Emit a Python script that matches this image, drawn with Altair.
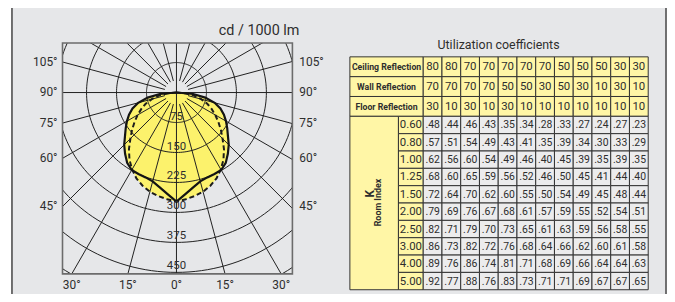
import altair as alt
import pandas as pd

# ------------------------------------------------------------------ data
# polar diagram: luminous intensity (cd / 1000 lm) every 5 degrees from nadir
angles = [0, 5, 10, 15, 20, 25, 30, 35, 40, 45, 50, 55, 60, 65, 70, 75, 80, 85, 90]
cd_solid = [273, 255, 241, 230, 226, 225, 224, 215, 200, 185, 168, 155, 143, 131, 117, 99, 73, 42, 0]
cd_dashed = [273, 268, 263, 257, 248, 237, 222, 205, 185, 163, 145, 128, 112, 97, 82, 64, 45, 22, 0]

ring_values = [75, 150, 225, 300, 375, 450, 525]
ring_labels = [75, 150, 225, 300, 375, 450]
radial_angles = [-165, -150, -135, -120, -105, -90, -75, -60, -45, -30, -15, 0,
                 15, 30, 45, 60, 75, 90, 105, 120, 135, 150, 165, 180]
side_angles = [105, 90, 75, 60, 45]
bottom_angles = [-30, -15, 0, 15, 30]
polar_title = "cd / 1000 lm"

# utilisation table
table_title = "Utilization coefficients"
header_labels = ["Ceiling Reflection", "Wall Reflection", "Floor Reflection"]
ceiling = [80, 80, 70, 70, 70, 70, 70, 50, 50, 50, 30, 30]
wall = [70, 70, 70, 70, 50, 50, 30, 50, 30, 10, 30, 10]
floor = [30, 10, 30, 10, 30, 10, 10, 10, 10, 10, 10, 10]
room_index = ["0.60", "0.80", "1.00", "1.25", "1.50", "2.00", "2.50", "3.00", "4.00", "5.00"]
coefficients = [
    [.48, .44, .46, .43, .35, .34, .28, .33, .27, .24, .27, .23],
    [.57, .51, .54, .49, .43, .41, .35, .39, .34, .30, .33, .29],
    [.62, .56, .60, .54, .49, .46, .40, .45, .39, .35, .39, .35],
    [.68, .60, .65, .59, .56, .52, .46, .50, .45, .41, .44, .40],
    [.72, .64, .70, .62, .60, .55, .50, .54, .49, .45, .48, .44],
    [.79, .69, .76, .67, .68, .61, .57, .59, .55, .52, .54, .51],
    [.82, .71, .79, .70, .73, .65, .61, .63, .59, .56, .58, .55],
    [.86, .73, .82, .72, .76, .68, .64, .66, .62, .60, .61, .58],
    [.89, .76, .86, .74, .81, .71, .68, .69, .66, .64, .64, .63],
    [.92, .77, .88, .76, .83, .73, .71, .71, .69, .67, .67, .65],
]

# ------------------------------------------------------------------ layout / style
FONT = "Roboto, 'Liberation Sans', sans-serif"
TXT = "#2e2e2e"
GRID = "#1f1f1f"
YELLOW = "#fcf26c"
YEL_TABLE = "#fff6a6"
PANEL = "#e6e7e9"
CELL = "#ececed"

OX, OY = 63, 42           # frame top-left (page px)
W, H = 232, 233           # frame size
CX, CY = 178 - OX, 92 - OY  # centre of the diagram inside the frame
KPX = 0.4033              # px per cd
XD = [-CX / KPX, (W - CX) / KPX]
YD = [-(H - CY) / KPX, CY / KPX]
XL = -XD[0]
YB = -YD[0]


def cx(px):
    return (px - OX - CX) / KPX


def cy(py):
    return (OY + CY - py) / KPX


def PX(f):
    return alt.X(f + ":Q", scale=alt.Scale(domain=XD, nice=False, zero=False), axis=None)


def PY(f):
    return alt.Y(f + ":Q", scale=alt.Scale(domain=YD, nice=False, zero=False), axis=None)


# table scales (columns / rows units)
COL_W = 18.92
ROW_H = 17.5
HH = 20 / ROW_H
NU = 3 * HH + 10
LC0 = (353 - 427) / COL_W
LC1 = (402 - 427) / COL_W


def TX(f):
    return alt.X(f + ":Q", scale=alt.Scale(domain=[0, 12], range=[427 - OX, 427 - OX + 12 * COL_W],
                                           nice=False, zero=False), axis=None)


def TY(f):
    return alt.Y(f + ":Q", scale=alt.Scale(domain=[0, NU], range=[56 - OY, 56 - OY + NU * ROW_H],
                                           nice=False, zero=False), axis=None)


def tcol(px):
    return (px - 427) / COL_W


def trow(py):
    return (py - 56) / ROW_H


ROWY = f"(datum.r < 3 ? (datum.r + 0.5) * {HH} : 3 * {HH} + datum.r - 3 + 0.5)"

# ------------------------------------------------------------------ tables built from the arrays
curve_rows = []
for name, vals in (("solid", cd_solid), ("dashed", cd_dashed)):
    for side in (-1, 1):
        for t, v in zip(angles, vals):
            curve_rows.append({"curve": name, "a": side * t, "cd": v})
curves = pd.DataFrame(curve_rows)

cells = []
for i, vals in enumerate([ceiling, wall, floor]):
    cells.append({"c0": LC0, "c1": 0, "r0": i, "r1": i + 1, "kind": "head"})
    for j in range(len(vals)):
        cells.append({"c0": j, "c1": j + 1, "r0": i, "r1": i + 1, "kind": "head"})
cells.append({"c0": LC0, "c1": LC1, "r0": 3, "r1": 13, "kind": "head"})
for i in range(len(room_index)):
    cells.append({"c0": LC1, "c1": 0, "r0": 3 + i, "r1": 4 + i, "kind": "head"})
    for j in range(12):
        cells.append({"c0": j, "c1": j + 1, "r0": 3 + i, "r1": 4 + i, "kind": "body"})
cells = pd.DataFrame(cells)

head_vals = pd.DataFrame([{"r": i, "c": j + 0.5, "t": str(v)}
                          for i, vals in enumerate([ceiling, wall, floor]) for j, v in enumerate(vals)])
head_labs = pd.DataFrame([{"r": i, "c": LC0 / 2, "t": t} for i, t in enumerate(header_labels)])
k_vals = pd.DataFrame([{"r": 3 + i, "c": LC1 / 2, "t": k} for i, k in enumerate(room_index)])
coef_vals = pd.DataFrame([{"r": 3 + i, "c": j + 0.5, "v": v}
                          for i, row in enumerate(coefficients) for j, v in enumerate(row)])

RAD = "PI / 180"

# ------------------------------------------------------------------ layers
panel = alt.Chart(pd.DataFrame([{"x0": cx(12), "x1": cx(672), "y0": cy(-20), "y1": cy(340)}])).mark_rect(
    fill=PANEL, stroke="#4f4f4f", strokeWidth=1.6
).encode(x=PX("x0"), x2=alt.X2("x1"), y=PY("y0"), y2=alt.Y2("y1"))

areas = alt.Chart(curves).transform_filter("datum.a >= 0").transform_calculate(
    px=f"datum.cd * sin(datum.a * {RAD})",
    py=f"-datum.cd * cos(datum.a * {RAD})",
).transform_calculate(nx="-datum.px").mark_area(
    orient="horizontal", clip=True, color=YELLOW, opacity=1
).encode(y=PY("py"), x=PX("px"), x2=alt.X2("nx"), detail="curve:N")

rings = alt.Chart(pd.DataFrame({"r": ring_values})).transform_calculate(
    ang="sequence(0, 362, 2)"
).transform_flatten(["ang"]).transform_calculate(
    px=f"datum.r * sin(datum.ang * {RAD})",
    py=f"-datum.r * cos(datum.ang * {RAD})",
).mark_line(clip=True, color=GRID, strokeWidth=1).encode(
    x=PX("px"), y=PY("py"), detail="r:N", order="ang:Q"
)

radials = alt.Chart(pd.DataFrame({"a": radial_angles})).transform_calculate(
    r0="abs(datum.a) % 90 == 0 ? 0 : 30",
).transform_calculate(
    x0=f"datum.r0 * sin(datum.a * {RAD})",
    y0=f"-datum.r0 * cos(datum.a * {RAD})",
    x1=f"900 * sin(datum.a * {RAD})",
    y1=f"-900 * cos(datum.a * {RAD})",
).mark_rule(clip=True, color=GRID, strokeWidth=1).encode(
    x=PX("x0"), y=PY("y0"), x2=alt.X2("x1"), y2=alt.Y2("y1")
)


def curve_line(name, **kw):
    return alt.Chart(curves).transform_filter(f"datum.curve == '{name}'").transform_calculate(
        px=f"datum.cd * sin(datum.a * {RAD})",
        py=f"-datum.cd * cos(datum.a * {RAD})",
    ).mark_line(clip=True, **kw).encode(x=PX("px"), y=PY("py"), order="a:Q")


line_dashed = curve_line("dashed", color="#1c1c1c", strokeWidth=2, strokeDash=[5, 3])
line_solid = curve_line("solid", color="#141414", strokeWidth=2.2)

frame = alt.Chart(pd.DataFrame([{"x0": XD[0], "x1": XD[1], "y0": YD[0], "y1": YD[1]}])).mark_rect(
    fill="transparent", stroke="#6c6c6c", strokeWidth=1.6
).encode(x=PX("x0"), x2=alt.X2("x1"), y=PY("y0"), y2=alt.Y2("y1"))

ring_text = alt.Chart(pd.DataFrame({"v": ring_labels})).transform_calculate(
    px="0", py="-datum.v", t="'' + datum.v"
).mark_text(font=FONT, fontSize=11.5, color=TXT, baseline="middle", align="center", dy=-6).encode(
    x=PX("px"), y=PY("py"), text="t:N"
)

side_df = pd.DataFrame({"a": side_angles})
side_calc = dict(py=f"-{XL} * cos(datum.a * {RAD}) / sin(datum.a * {RAD})", t="datum.a + '°'")
left_text = alt.Chart(side_df).transform_calculate(px=f"{XD[0]}", **side_calc).mark_text(
    font=FONT, fontSize=12, color=TXT, align="right", baseline="middle", dx=-5
).encode(x=PX("px"), y=PY("py"), text="t:N")
right_text = alt.Chart(side_df).transform_calculate(px=f"{XD[1]}", **side_calc).mark_text(
    font=FONT, fontSize=12, color=TXT, align="left", baseline="middle", dx=7
).encode(x=PX("px"), y=PY("py"), text="t:N")
bottom_text = alt.Chart(pd.DataFrame({"a": bottom_angles})).transform_calculate(
    px=f"{YB} * tan(datum.a * {RAD})", py=f"{YD[0]}", t="abs(datum.a) + '°'"
).mark_text(font=FONT, fontSize=12, color=TXT, align="center", baseline="middle", dy=11).encode(
    x=PX("px"), y=PY("py"), text="t:N"
)

title_polar = alt.Chart(pd.DataFrame([{"px": cx(302), "py": cy(30), "t": polar_title}])).mark_text(
    font=FONT, fontSize=14.5, color=TXT, align="right", baseline="middle"
).encode(x=PX("px"), y=PY("py"), text="t:N")

# table
rects = alt.Chart(cells).transform_calculate(
    y0=f"datum.r0 <= 3 ? datum.r0 * {HH} : 3 * {HH} + datum.r0 - 3",
    y1=f"datum.r1 <= 3 ? datum.r1 * {HH} : 3 * {HH} + datum.r1 - 3",
).mark_rect(stroke="#333333", strokeWidth=1).encode(
    x=TX("c0"), x2=alt.X2("c1"), y=TY("y0"), y2=alt.Y2("y1"),
    color=alt.Color("kind:N", scale=alt.Scale(domain=["head", "body"], range=[YEL_TABLE, CELL]), legend=None),
)


def cell_text(df, size, weight="normal", text_expr=None):
    ch = alt.Chart(df).transform_calculate(yc=ROWY)
    if text_expr:
        ch = ch.transform_calculate(t=text_expr)
    return ch.mark_text(font=FONT, fontSize=size, fontWeight=weight, color=TXT,
                        align="center", baseline="middle", dy=0.5).encode(
        x=TX("c"), y=TY("yc"), text="t:N")


t_head_labs = cell_text(head_labs, 8.8, "bold")
t_head_vals = cell_text(head_vals, 11.5)
t_k = cell_text(k_vals, 11.5)
t_coef = cell_text(coef_vals, 10.5, text_expr="substring(format(datum.v, '.2f'), 1)")

rot = pd.DataFrame([
    {"c": tcol(373), "y": trow(194), "t": "K", "s": 12},
    {"c": tcol(381.5), "y": trow(203), "t": "Room Index", "s": 9},
])
t_rot = alt.Chart(rot).mark_text(font=FONT, fontWeight="bold", color=TXT, angle=270,
                                 align="center", baseline="middle").encode(
    x=TX("c"), y=TY("y"), text="t:N", size=alt.Size("s:Q", scale=None, legend=None))

t_title = alt.Chart(pd.DataFrame([{"c": tcol(503), "y": trow(44), "t": table_title}])).mark_text(
    font=FONT, fontSize=12.5, color=TXT, align="center", baseline="middle"
).encode(x=TX("c"), y=TY("y"), text="t:N")

chart = alt.layer(
    panel, areas, rings, radials, line_dashed, line_solid, frame,
    ring_text, left_text, right_text, bottom_text, title_polar,
    rects, t_head_labs, t_head_vals, t_k, t_coef, t_rot, t_title,
).resolve_scale(x="independent", y="independent").properties(
    width=W, height=H,
    padding={"left": OX - 8, "top": OY - 8, "right": 665 - (OX - 8) - W, "bottom": 286 - (OY - 8) - H},
    autosize="none", background="white",
).configure_view(stroke=None)

chart.save("out.html", embed_options={"renderer": "svg", "actions": False})
